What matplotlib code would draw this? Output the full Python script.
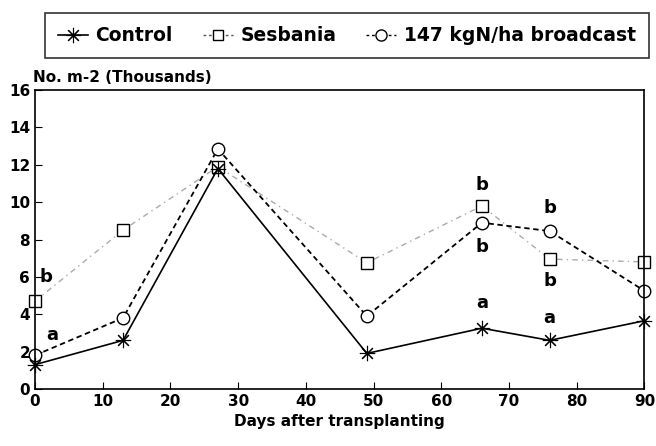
from matplotlib import pyplot as plt
from matplotlib.lines import Line2D

days = [0, 13, 27, 49, 66, 76, 90]
control = [1.3, 2.6, 11.8, 1.9, 3.25, 2.6, 3.65]
sesbania = [4.7, 8.5, 11.9, 6.75, 9.8, 6.95, 6.8]
broadcast = [1.8, 3.8, 12.85, 3.9, 8.9, 8.45, 5.25]

# significance letters (x, y, text)
letters = [(1.6, 6.0, 'b'), (2.5, 2.9, 'a'),
           (66, 10.9, 'b'), (66, 7.6, 'b'), (66, 4.6, 'a'),
           (76, 9.7, 'b'), (76, 5.8, 'b'), (76, 3.8, 'a')]

plt.rcParams['font.family'] = ['DejaVu Sans']
plt.rcParams['font.weight'] = 'bold'

fig = plt.figure(figsize=(6.56, 4.46), dpi=100)
ax = fig.add_axes([0.0534, 0.128, 0.929, 0.67])

star = (8, 2, 0)
ax.plot(days, sesbania, color='#aaaaaa', lw=1, ls=(0, (4, 3, 1, 3)),
        marker='s', mfc='white', mec='black', ms=8, mew=1, clip_on=False)
ax.plot(days, broadcast, color='black', lw=1.3, ls=(0, (3, 2)),
        marker='o', mfc='white', mec='black', ms=9, mew=1, clip_on=False)
ax.plot(days, control, color='black', lw=1.2, ls='-',
        marker=star, mec='black', ms=11, mew=0.8, clip_on=False)

for x, y, t in letters:
    ax.text(x, y, t, fontsize=13, ha='center', va='center')

ax.set_xlim(0, 90)
ax.set_ylim(0, 16)
ax.set_xticks(range(0, 91, 10))
ax.set_yticks(range(0, 17, 2))
ax.tick_params(direction='in', length=5, labelsize=11, top=False, right=False)
for s in ax.spines.values():
    s.set_linewidth(1.2)
ax.set_xlabel('Days after transplanting', fontsize=11, fontweight='bold', labelpad=4)
fig.text(0.05, 0.81, 'No. m-2 (Thousands)', fontsize=11, fontweight='bold', va='bottom')

handles = [
    Line2D([], [], color='black', lw=1.2, marker=star, mec='black', ms=11, mew=0.8),
    Line2D([], [], color='#555555', lw=1, ls=(0, (2, 2)), marker='s', mfc='white', mec='black', ms=7),
    Line2D([], [], color='black', lw=1, ls=(0, (2, 2)), marker='o', mfc='white', mec='black', ms=8),
]
labels = ['Control', 'Sesbania', '147 kgN/ha broadcast']
leg = fig.legend(handles, labels, loc='center', bbox_to_anchor=(0.529, 0.92), ncol=3,
                 frameon=True, fancybox=False, edgecolor='black', fontsize=13.5,
                 handlelength=1.6, handletextpad=0.4, columnspacing=1.6, borderpad=0.7)
leg.get_frame().set_linewidth(1.2)

fig.savefig('out.png', dpi=100)
